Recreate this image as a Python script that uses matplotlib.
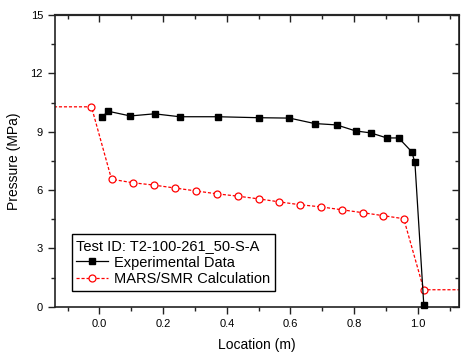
import matplotlib.pyplot as plt
from matplotlib.ticker import MultipleLocator

plt.rcParams['font.family'] = ['Liberation Sans', 'DejaVu Sans']

# experimental data
exp_x = [0.009, 0.028, 0.097, 0.173, 0.252, 0.371, 0.500, 0.597, 0.676, 0.745,
         0.805, 0.852, 0.903, 0.940, 0.981, 0.991, 1.019]
exp_p = [9.78, 10.05, 9.81, 9.92, 9.77, 9.77, 9.72, 9.70, 9.42, 9.35,
         9.04, 8.94, 8.68, 8.68, 7.97, 7.42, 0.08]

# MARS/SMR calculation (first and last points are the boundary values beyond the axis)
calc_x = [-0.3, -0.025, 0.038, 0.104, 0.170, 0.236, 0.302, 0.368, 0.434, 0.500,
          0.563, 0.629, 0.695, 0.761, 0.827, 0.890, 0.956, 1.019, 1.3]
calc_p = [10.28, 10.28, 6.56, 6.38, 6.26, 6.11, 5.96, 5.81, 5.69, 5.55,
          5.40, 5.25, 5.14, 4.99, 4.84, 4.69, 4.53, 0.88, 0.88]

fig = plt.figure(figsize=(4.61, 3.56), dpi=100)
ax = fig.add_axes([0.119, 0.138, 0.877, 0.82])

ax.plot(exp_x, exp_p, color='black', lw=0.9, marker='s', ms=4.6,
        label='Experimental Data', clip_on=False, zorder=3)
ax.plot(calc_x, calc_p, color='red', lw=0.9, ls=(0, (2.5, 1.5)), marker='o', ms=5,
        mfc='white', mec='red', mew=0.9, markevery=slice(1, -1),
        label='MARS/SMR Calculation', zorder=2)

ax.set_xlim(-0.14, 1.13)
ax.set_ylim(0, 15)
ax.xaxis.set_major_locator(MultipleLocator(0.2))
ax.xaxis.set_minor_locator(MultipleLocator(0.1))
ax.yaxis.set_major_locator(MultipleLocator(3))
ax.yaxis.set_minor_locator(MultipleLocator(1.5))
ax.xaxis.set_major_formatter(plt.FuncFormatter(lambda v, p: '%.1f' % v))
ax.tick_params(which='both', direction='out', labelsize=8, width=1, color='#222222')
ax.tick_params(which='major', length=5)
ax.tick_params(which='minor', length=3)
for s in ax.spines.values():
    s.set_linewidth(1.2)
    s.set_color('#222222')

# mirrored ticks pointing inward on top and right
top = ax.secondary_xaxis('top')
top.xaxis.set_major_locator(MultipleLocator(0.2))
top.xaxis.set_minor_locator(MultipleLocator(0.1))
top.tick_params(which='both', direction='in', labeltop=False, width=1, color='#222222')
top.tick_params(which='major', length=5)
top.tick_params(which='minor', length=3)
top.spines['top'].set_linewidth(1.6)
top.spines['top'].set_color('#444444')
right = ax.secondary_yaxis('right')
right.yaxis.set_major_locator(MultipleLocator(3))
right.yaxis.set_minor_locator(MultipleLocator(1.5))
right.tick_params(which='both', direction='in', labelright=False, width=1, color='#222222')
right.tick_params(which='major', length=5)
right.tick_params(which='minor', length=3)

ax.set_xlabel('Location (m)', fontsize=10, labelpad=7)
ax.set_ylabel('Pressure (MPa)', fontsize=10, labelpad=7)

leg = ax.legend(loc='lower left', bbox_to_anchor=(0.042, 0.055), borderaxespad=0,
                title='Test ID: T2-100-261_50-S-A', alignment='left',
                fontsize=10.5, title_fontsize=10.5, fancybox=False, framealpha=1,
                edgecolor='black', handlelength=2.2, handletextpad=0.4,
                borderpad=0.3, labelspacing=0.2)
leg.get_frame().set_linewidth(1)

fig.savefig('out.png', dpi=100)
